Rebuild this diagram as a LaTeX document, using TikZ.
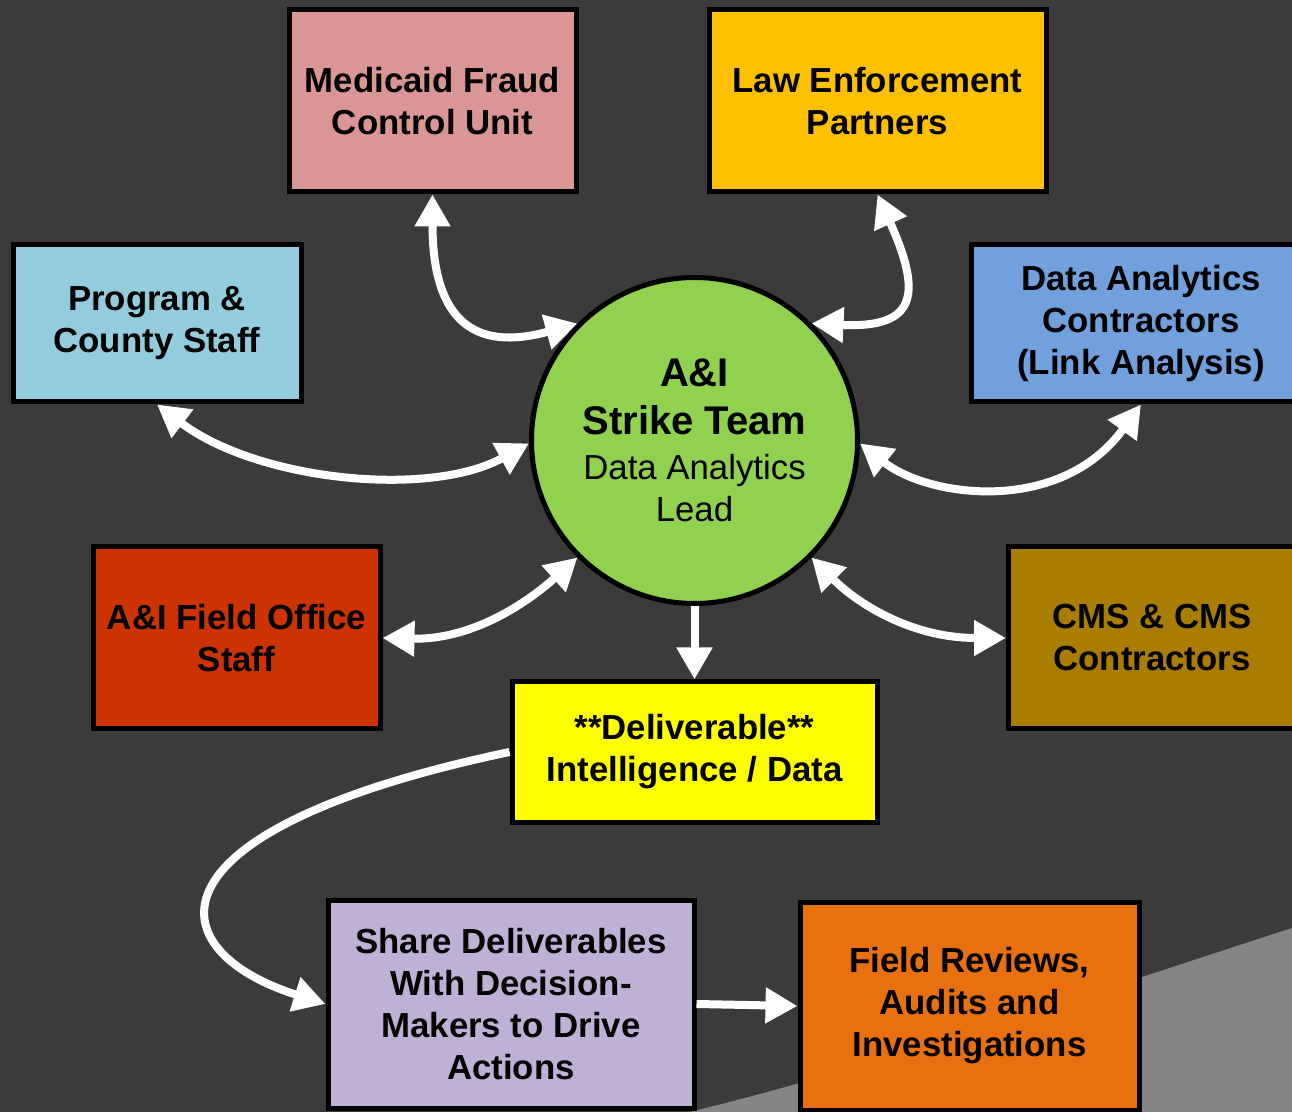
\documentclass[tikz,border=0pt]{standalone}
\usepackage{fontspec}
\setmainfont{Liberation Sans}
\usepackage{tikz}
\usetikzlibrary{positioning}
\usetikzlibrary{arrows.meta}

\definecolor{bggray}{HTML}{3B3B3B}
\definecolor{wedgegray}{HTML}{858585}
\definecolor{mfcupink}{HTML}{D99694}
\definecolor{lawgold}{HTML}{FFC000}
\definecolor{progblue}{HTML}{93CDDD}
\definecolor{dacblue}{HTML}{72A0DC}
\definecolor{fored}{HTML}{CC3300}
\definecolor{cmsbrown}{HTML}{A97D00}
\definecolor{delivyellow}{HTML}{FFFF00}
\definecolor{sharelilac}{HTML}{BFB1D5}
\definecolor{revorange}{HTML}{E8700F}
\definecolor{leadgreen}{HTML}{92D050}

\begin{document}
\begin{tikzpicture}[x=0.5pt, y=-0.5pt,
squarenode/.style={rectangle, draw=black, line width=2.5pt, align=center, inner sep=0pt,
  font=\fontsize{17.4}{21}\selectfont\bfseries},
roundnode/.style={circle, draw=black, line width=2.5pt, fill=leadgreen, minimum size=163pt,
  align=center, inner sep=0pt, font=\fontsize{17.4}{21}\selectfont},
edge/.style={->, > = {Triangle[length=16pt,width=17pt]}, draw=white, line width=4pt}
]

%Background
\clip (0,0) rectangle (1292,1112);
\fill[bggray] (0,0) rectangle (1292,1112);
\fill[wedgegray] (690,1112) .. controls (900,1060) and (1100,990) .. (1292,928) -- (1292,1112) -- cycle;

%Nodes
\node[roundnode] (lead) at (694.5,440.5) {{\fontsize{20}{24}\selectfont\bfseries A\&I}\\[3pt]{\fontsize{20}{24}\selectfont\bfseries Strike Team}\\[1.5pt]Data Analytics\\Lead};
\node[squarenode, fill=mfcupink, minimum width=143.5pt, minimum height=91pt] (mfcu) at (432.5,101) {Medicaid Fraud\\Control Unit};
\node[squarenode, fill=lawgold, minimum width=168.5pt, minimum height=91pt] (law) at (877.5,101) {Law Enforcement\\Partners};
\node[squarenode, fill=progblue, minimum width=144pt, minimum height=78.5pt] (prog) at (157,323.5) {Program \&\\County Staff};
\node[squarenode, fill=dacblue, minimum width=170pt, minimum height=78.5pt] (dac) at (1141,323.5) {Data Analytics\\Contractors\\(Link Analysis)};
\node[squarenode, fill=fored, minimum width=143.5pt, minimum height=91pt] (fo) at (236.5,638) {A\&I Field Office\\Staff};
\node[squarenode, fill=cmsbrown, minimum width=143.5pt, minimum height=91pt] (cms) at (1152,638) {CMS \& CMS\\Contractors};
\node[squarenode, fill=delivyellow, minimum width=182.5pt, minimum height=70pt] (deliv) at (694.5,752) {**Deliverable**\\Intelligence / Data};
\node[squarenode, fill=sharelilac, minimum width=183pt, minimum height=104pt] (share) at (511,1004) {Share Deliverables\\With Decision-\\Makers to Drive\\Actions};
\node[squarenode, fill=revorange, minimum width=169.5pt, minimum height=104pt] (frev) at (969.5,1006) {Field Reviews,\\Audits and\\Investigations};

%Edges
\draw[edge,<->] (mfcu.south) .. controls +(0,140) and +(-90,25) .. (lead.135);
\draw[edge,<->] (law.south) .. controls +(45,100) and +(105,5) .. (lead.45);
\draw[edge,<->] (prog.south) .. controls +(100,76) and +(-100,55) .. (lead.181);
\draw[edge,<->] (lead.359) .. controls +(70,55) and +(-80,110) .. (dac.south);
\draw[edge,<->] (fo.east) .. controls +(90,2) and +(-50,45) .. (lead.225);
\draw[edge,<->] (lead.315) .. controls +(50,50) and +(-90,0) .. (cms.west);
\draw[edge] (lead.south) -- (deliv.north);
\draw[edge] (deliv.west) .. controls +(-370,78) and +(-170,-54) .. (share.west);
\draw[edge] (share.east) -- (frev.west);

\end{tikzpicture}
\end{document}
